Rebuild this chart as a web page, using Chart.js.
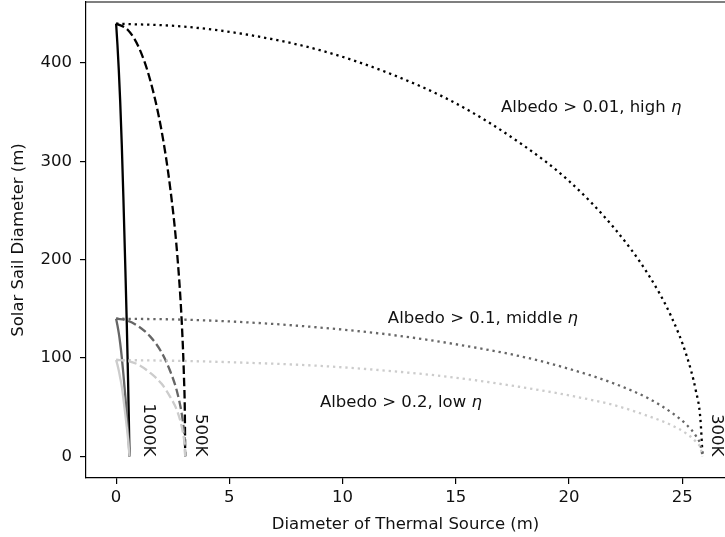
<!DOCTYPE html>
<html>
<head>
<meta charset="utf-8">
<script src="https://cdn.jsdelivr.net/npm/chart.js@4.4.1/dist/chart.umd.min.js"></script>
<style>
  html, body { margin: 0; padding: 0; background: #fff; overflow: hidden; }
  #wrap { width: 725px; height: 537px; }
</style>
</head>
<body>
<div id="wrap"><canvas id="sail-chart"></canvas></div>
<script>
// diameter of thermal source (m), sampled along each temperature curve
const x1000K = [0, 0.06, 0.12, 0.18, 0.25, 0.32, 0.41, 0.47, 0.53, 0.56, 0.59];
const x500K = [0, 0.5, 1.0, 1.5, 2.0, 2.4, 2.7, 2.9, 3.0, 3.035, 3.05];
const x300K = [0, 3, 6, 9, 12, 15, 18, 20, 22, 23.5, 24.5, 25.2, 25.6, 25.8, 25.9];

// solar sail diameter (m) for each albedo level
const y1000KHigh = [440, 418, 392, 361, 317, 264, 189, 136, 75, 40, 0];
const y1000KMid = [140, 133, 125, 115, 101, 84, 60, 43, 24, 13, 0];
const y1000KLow = [98, 93, 87, 80, 71, 59, 42, 30, 17, 9, 0];

const y500KHigh = [440, 434, 416, 383, 332, 271, 205, 136, 78, 44, 0];
const y500KMid = [140, 138, 132, 122, 106, 86, 65, 43, 25, 14, 0];
const y500KLow = [98, 97, 93, 85, 74, 60, 46, 30, 17, 10, 0];

const y300KHigh = [440, 437, 428, 413, 390, 359, 316, 280, 232, 185, 143, 102, 67, 39, 0];
const y300KMid = [140, 139, 136, 131, 124, 114, 101, 89, 74, 59, 45, 32, 21, 12, 0];
const y300KLow = [98, 97, 95, 92, 87, 80, 70, 62, 52, 41, 32, 23, 15, 9, 0];

const xTicks = [0, 5, 10, 15, 20, 25];
const yTicks = [0, 100, 200, 300, 400];

const albedoNotes = [
  { text: "Albedo > 0.01, high ", x: 17, y: 350 },
  { text: "Albedo > 0.1, middle ", x: 12, y: 136 },
  { text: "Albedo > 0.2, low ", x: 9, y: 50 },
];
const tempNotes = [
  { text: "1000K", x: 1.42 },
  { text: "500K", x: 3.72 },
  { text: "300K", x: 26.5 },
];

const FONT_SIZE = 16.5;
const FONT = FONT_SIZE + "px 'DejaVu Sans'";

function pts(xs, ys) {
  return xs.map((x, i) => ({ x: x, y: ys[i] }));
}

const solid = [];
const dashed = [8.6, 3.7];
const dotted = [2.3, 3.9];

function curve(xs, ys, color, dash, order) {
  return {
    data: pts(xs, ys),
    borderColor: color,
    borderWidth: 2.3,
    borderDash: dash,
    borderCapStyle: "butt",
    pointRadius: 0,
    showLine: true,
    fill: false,
    cubicInterpolationMode: "monotone",
    order: order,
  };
}

const datasets = [
  curve(x1000K, y1000KHigh, "#000000", solid, 3),
  curve(x500K, y500KHigh, "#000000", dashed, 3),
  curve(x300K, y300KHigh, "#000000", dotted, 3),
  curve(x1000K, y1000KMid, "#666666", solid, 2),
  curve(x500K, y500KMid, "#666666", dashed, 2),
  curve(x300K, y300KMid, "#666666", dotted, 2),
  curve(x1000K, y1000KLow, "#cccccc", solid, 1),
  curve(x500K, y500KLow, "#cccccc", dashed, 1),
  curve(x300K, y300KLow, "#cccccc", dotted, 1),
];

// top spine + text annotations
const notesPlugin = {
  id: "notes",
  afterDraw(chart) {
    const { ctx, chartArea, scales } = chart;
    ctx.save();
    ctx.strokeStyle = "#000";
    ctx.lineWidth = 1.2;
    ctx.beginPath();
    ctx.moveTo(chartArea.left, chartArea.top);
    ctx.lineTo(chartArea.right, chartArea.top);
    ctx.stroke();

    ctx.fillStyle = "#111";
    ctx.textBaseline = "alphabetic";
    ctx.textAlign = "left";
    albedoNotes.forEach(function (n) {
      const px = scales.x.getPixelForValue(n.x);
      const py = scales.y.getPixelForValue(n.y);
      ctx.font = FONT;
      ctx.fillText(n.text, px, py);
      const w = ctx.measureText(n.text).width;
      ctx.font = "italic " + FONT;
      ctx.fillText("\u03b7", px + w, py);
    });

    ctx.font = FONT;
    tempNotes.forEach(function (n) {
      ctx.save();
      ctx.translate(scales.x.getPixelForValue(n.x), scales.y.getPixelForValue(0));
      ctx.rotate(Math.PI / 2);
      ctx.textAlign = "right";
      ctx.textBaseline = "middle";
      ctx.fillText(n.text, 0, 0);
      ctx.restore();
    });
    ctx.restore();
  },
};

const ctx = document.getElementById("sail-chart").getContext("2d");
new Chart(ctx, {
  type: "scatter",
  data: { datasets: datasets },
  options: {
    responsive: true,
    maintainAspectRatio: false,
    animation: false,
    devicePixelRatio: 1,
    layout: { padding: { top: 2, right: 0, bottom: 0, left: 0 } },
    plugins: {
      legend: { display: false },
      tooltip: { enabled: false },
    },
    scales: {
      x: {
        type: "linear",
        min: -1.33,
        max: 26.89,
        afterFit: function (scale) {
          scale.height = 59;
          scale.paddingLeft = 0;
          scale.paddingRight = 0;
        },
        afterBuildTicks: function (scale) {
          scale.ticks = xTicks.map(v => ({ value: v }));
        },
        grid: { drawOnChartArea: false, drawTicks: true, tickLength: 6, color: "#000", lineWidth: 1.2 },
        border: { display: true, color: "#000", width: 1.2 },
        ticks: {
          autoSkip: false,
          maxRotation: 0,
          padding: 4,
          color: "#111",
          font: { family: "DejaVu Sans", size: FONT_SIZE },
        },
        title: {
          display: true,
          text: "Diameter of Thermal Source (m)",
          color: "#111",
          font: { family: "DejaVu Sans", size: FONT_SIZE },
          padding: { top: 0, bottom: 2 },
        },
      },
      y: {
        type: "linear",
        min: -22,
        max: 462,
        afterFit: function (scale) {
          scale.width = 86;
          scale.paddingTop = 0;
          scale.paddingBottom = 0;
        },
        afterBuildTicks: function (scale) {
          scale.ticks = yTicks.map(v => ({ value: v }));
        },
        grid: { drawOnChartArea: false, drawTicks: true, tickLength: 6, color: "#000", lineWidth: 1.2 },
        border: { display: true, color: "#000", width: 1.2 },
        ticks: {
          autoSkip: false,
          padding: 8,
          color: "#111",
          font: { family: "DejaVu Sans", size: FONT_SIZE },
        },
        title: {
          display: true,
          text: "Solar Sail Diameter (m)",
          color: "#111",
          font: { family: "DejaVu Sans", size: FONT_SIZE },
          padding: { top: 9, bottom: 0 },
        },
      },
    },
  },
  plugins: [notesPlugin],
});
</script>
</body>
</html>
